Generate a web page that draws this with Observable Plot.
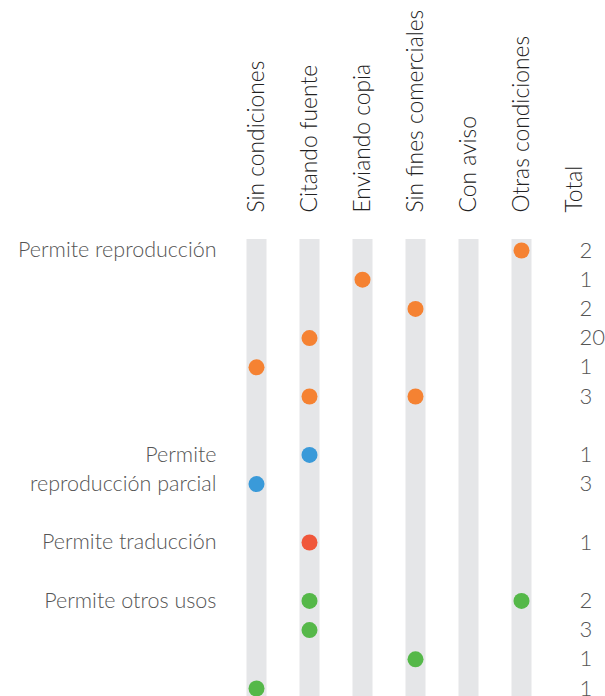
<!DOCTYPE html>
<html>
<head>
<meta charset="utf-8">
<script src="https://cdn.jsdelivr.net/npm/d3@7"></script>
<script src="https://cdn.jsdelivr.net/npm/@observablehq/plot@0.6"></script>
<style>
  html, body { margin: 0; padding: 0; background: #fff; }
  svg { font-family: Lato, "Open Sans", sans-serif; font-weight: 300; }
</style>
</head>
<body>
<div id="chart"></div>
<script>
// Columns (conditions)
const columns = ["Sin condiciones", "Citando fuente", "Enviando copia", "Sin fines comerciales", "Con aviso", "Otras condiciones"];
const totalLabel = "Total";

// Row slots (vertical position index), the group of each row, the columns with a dot, and the row total
const rowSlot   = [0, 1, 2, 3, 4, 5, 7, 8, 10, 12, 13, 14, 15];
const rowGroup  = ["reproduccion", "reproduccion", "reproduccion", "reproduccion", "reproduccion", "reproduccion",
                   "parcial", "parcial", "traduccion", "otros", "otros", "otros", "otros"];
const rowCols   = [
  ["Otras condiciones"],
  ["Enviando copia"],
  ["Sin fines comerciales"],
  ["Citando fuente"],
  ["Sin condiciones"],
  ["Citando fuente", "Sin fines comerciales"],
  ["Citando fuente"],
  ["Sin condiciones"],
  ["Citando fuente"],
  ["Citando fuente", "Otras condiciones"],
  ["Citando fuente"],
  ["Sin fines comerciales"],
  ["Sin condiciones"]
];
const rowTotals = [2, 1, 2, 20, 1, 3, 1, 3, 1, 2, 3, 1, 1];

// Group label lines
const labelSlot = [0, 7, 8, 10, 12];
const labelText = ["Permite reproducción", "Permite", "reproducción parcial", "Permite traducción", "Permite otros usos"];

const groupKeys   = ["reproduccion", "parcial", "traduccion", "otros"];
const groupColors = ["#f58232", "#3a9ad9", "#f0573b", "#55b849"];

const dots = rowSlot.flatMap((s, i) => rowCols[i].map(c => ({slot: s, col: c, group: rowGroup[i]})));
const totals = rowSlot.map((s, i) => ({slot: s, total: String(rowTotals[i])}));
const labels = labelSlot.map((s, i) => ({slot: s, text: labelText[i]}));

const textColor = "#555";

const chart = Plot.plot({
  width: 605,
  height: 696,
  marginTop: 239,
  marginBottom: 0,
  marginLeft: 226,
  marginRight: 0,
  x: {type: "point", domain: [...columns, totalLabel], range: [256, 574], padding: 0},
  y: {domain: [0, 15], range: [250, 688], axis: null},
  color: {domain: groupKeys, range: groupColors},
  marks: [
    Plot.ruleX(columns, {x: d => d, stroke: "#e5e6e8", strokeWidth: 20}),
    Plot.axisX({anchor: "top", tickRotate: -90, tickSize: 0, tickPadding: 27, fontSize: 22.8, fill: "#222", label: null}),
    Plot.dot(dots, {x: "col", y: "slot", r: 8, fill: "group"}),
    Plot.text(totals, {x: () => totalLabel, y: "slot", text: "total", textAnchor: "start", dx: 5, fontSize: 22, fill: textColor}),
    Plot.text(labels, {frameAnchor: "left", y: "slot", text: "text", textAnchor: "end", dx: -10, fontSize: 21.5, fill: textColor})
  ]
});
document.getElementById("chart").appendChild(chart);
</script>
</body>
</html>
